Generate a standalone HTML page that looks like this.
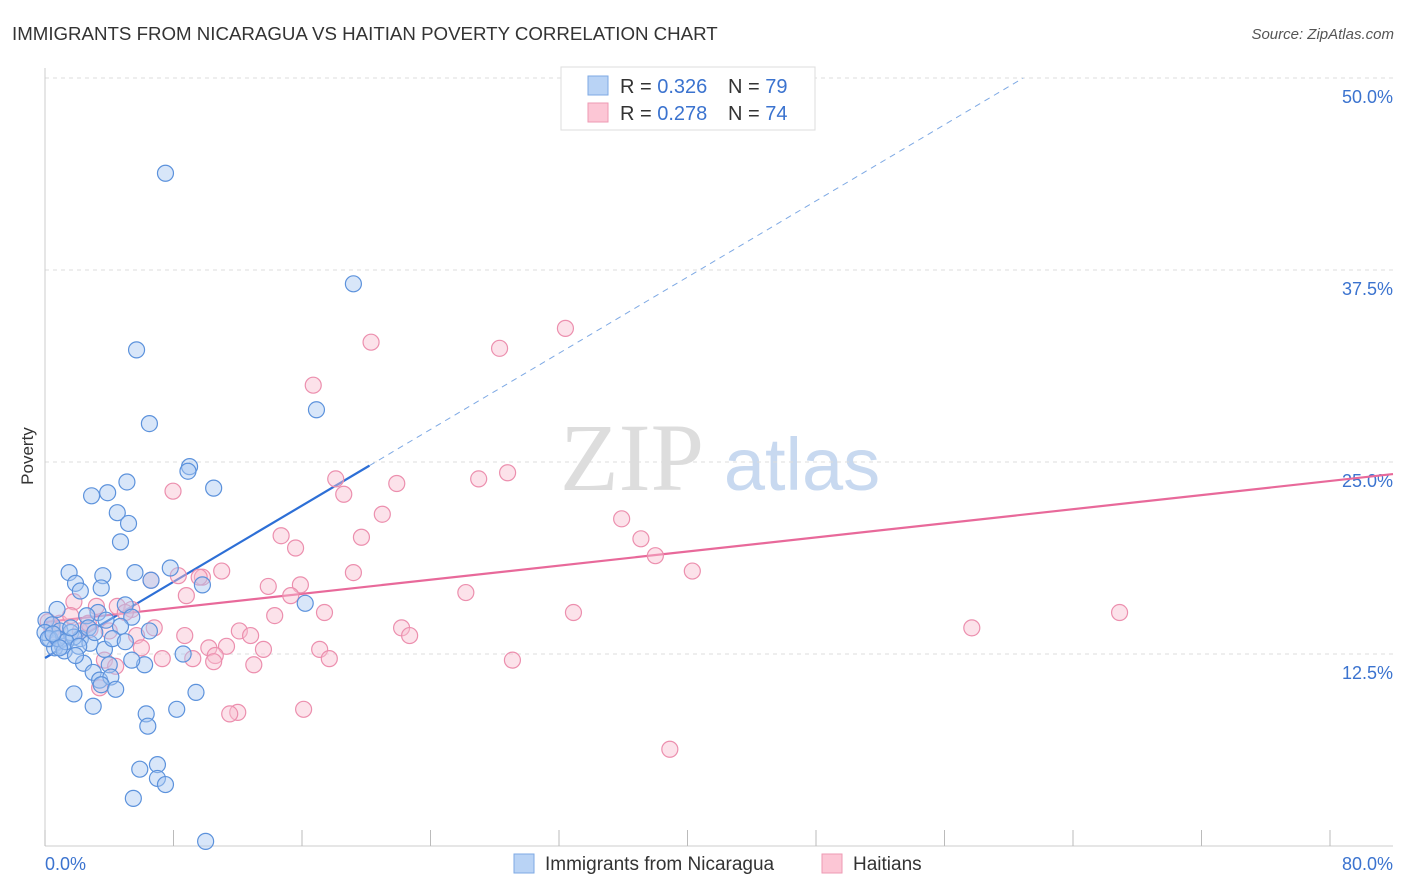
<!DOCTYPE html>
<html><head><meta charset="utf-8">
<style>
body{margin:0;background:#fff;font-family:"Liberation Sans",sans-serif;}
#wrap{position:relative;width:1406px;height:892px;overflow:hidden;}
</style></head>
<body>
<div id="wrap">
<svg id="svg" width="1406" height="892" xmlns="http://www.w3.org/2000/svg">
<text x="12" y="40" font-size="18.7" fill="#333">IMMIGRANTS FROM NICARAGUA VS HAITIAN POVERTY CORRELATION CHART</text>
<text x="1394" y="39" font-size="15" fill="#555" font-style="italic" text-anchor="end">Source: ZipAtlas.com</text>
<text x="33" y="456" font-size="17" fill="#333" text-anchor="middle" transform="rotate(-90 33 456)">Poverty</text>
<g>
<text x="632" y="490" font-size="96" font-family="Liberation Serif,serif" fill="#ddd" text-anchor="middle">ZIP</text>
<text x="802" y="490" font-size="74" fill="#c8d9f0" text-anchor="middle">atlas</text>
</g>
<g id="grid"></g><g id="axes"></g><g id="trend"></g><g id="pts"></g>
<g>
<rect x="561" y="67" width="254" height="63" fill="#fff" stroke="#ddd"/>
<rect x="588" y="76" width="20" height="19" fill="#b9d3f5" stroke="#7ea9e4"/>
<rect x="588" y="103" width="20" height="19" fill="#fcc6d5" stroke="#ee9ab3"/>
<text x="620" y="93" font-size="20" fill="#333">R = <tspan fill="#3b73cf">0.326</tspan><tspan x="728">N = </tspan><tspan fill="#3b73cf">79</tspan></text>
<text x="620" y="120" font-size="20" fill="#333">R = <tspan fill="#3b73cf">0.278</tspan><tspan x="728">N = </tspan><tspan fill="#3b73cf">74</tspan></text>
</g>
<g>
<rect x="514" y="854" width="20" height="19" fill="#b9d3f5" stroke="#7ea9e4"/>
<text x="545" y="870" font-size="19" fill="#333">Immigrants from Nicaragua</text>
<rect x="822" y="854" width="20" height="19" fill="#fcc6d5" stroke="#ee9ab3"/>
<text x="853" y="870" font-size="19" fill="#333">Haitians</text>
</g>
</svg>
</div>
<script>
const yTicks=[12.5,25,37.5,50];
const yTickLabels=["12.5%","25.0%","37.5%","50.0%"];
const xTickCount=10;
const blueX=[7.5,19.2,5.7,16.9,6.5,9.0,8.9,5.1,10.5,2.9,3.9,4.5,5.2,4.7,7.8,1.5,5.6,3.6,1.9,3.5,2.2,6.6,9.8,0.75,3.3,5.0,5.4,16.2,2.6,4.7,6.5,0.06,0.44,0.93,1.6,2.2,1.1,1.8,0.3,0.6,1.2,3.7,4.2,5.0,8.6,6.2,2.4,3.0,4.0,3.4,4.1,3.5,4.4,1.8,9.4,3.0,6.3,8.2,6.4,7.0,5.9,7.0,7.5,5.5,10.0,0.0,0.2,0.8,1.3,0.5,2.7,3.8,5.4,2.8,2.1,1.6,3.1,0.9,1.9];
const blueY=[43.8,36.6,32.3,28.4,27.5,24.7,24.4,23.7,23.3,22.8,23.0,21.7,21.0,19.8,18.1,17.8,17.8,17.6,17.1,16.8,16.6,17.3,17.0,15.4,15.2,15.7,14.9,15.8,14.99,14.3,14.0,14.7,14.4,14.0,13.9,13.5,13.0,13.6,13.5,12.9,12.7,12.8,13.5,13.3,12.5,11.8,11.9,11.3,11.8,10.8,11.0,10.5,10.2,9.9,10.0,9.1,8.6,8.9,7.8,5.3,5.0,4.4,4.0,3.1,0.3,13.9,13.5,13.5,13.3,13.8,14.2,14.7,12.1,13.2,13.0,14.2,13.9,12.9,12.4];
const pinkX=[32.4,20.3,28.3,16.7,18.1,28.8,27.0,21.9,7.97,18.6,21.0,35.9,14.7,19.7,37.1,15.6,38.0,40.3,11.0,19.2,8.3,9.8,6.6,13.9,15.9,8.8,15.3,26.2,1.8,3.2,4.5,5.4,17.4,32.9,66.9,14.3,57.7,22.2,22.7,12.1,12.8,6.8,8.7,5.7,0.2,0.93,2.8,6.0,10.2,11.3,13.6,17.1,10.6,7.3,9.2,3.7,17.7,13.0,29.1,4.4,16.1,12.0,11.5,38.9,2.2,0.75,3.4,5.0,4.0,9.6,10.5,1.6,0.44,2.7];
const pinkY=[33.7,32.8,32.4,30.0,23.9,24.3,23.9,23.6,23.1,22.9,21.6,21.3,20.2,20.1,20.0,19.4,18.9,17.9,17.9,17.8,17.6,17.5,17.3,16.9,17.0,16.3,16.3,16.5,15.9,15.6,15.6,15.4,15.2,15.2,15.2,15.0,14.2,14.2,13.7,14.0,13.7,14.2,13.7,13.7,14.6,14.5,14.1,12.9,12.9,13.0,12.8,12.8,12.4,12.2,12.2,12.1,12.2,11.8,12.1,11.7,8.9,8.7,8.6,6.3,14.0,13.5,10.3,15.2,14.0,17.5,12.0,15.0,14.1,14.5];
const blueTrend=[12.24,0.62];
const blueTrendSolidEnd=[20.2];
const pinkTrend=[14.58,0.1148];
const NS="http://www.w3.org/2000/svg";
const X=v=>45+v*16.0625, Y=v=>846-v*15.36;
function mk(t,a,p){const e=document.createElementNS(NS,t);for(const k in a)e.setAttribute(k,a[k]);p.appendChild(e);return e;}
const grid=document.getElementById('grid'),axes=document.getElementById('axes');
yTicks.forEach((v,i)=>{
 const l=mk('line',{x1:45,x2:1393,y1:Y(v),y2:Y(v),stroke:'#ddd','stroke-dasharray':'4 4'},grid);
 
 
 const t=mk('text',{x:1393,y:Y(v)+25,'font-size':18,fill:'#3b73cf','text-anchor':'end'},axes);
 t.textContent=yTickLabels[i];
 
 
});
mk('line',{x1:45,x2:45,y1:68,y2:846,stroke:'#ccc'},axes);
mk('line',{x1:45,x2:1393,y1:846,y2:846,stroke:'#ccc'},axes);
for(let i=0;i<=xTickCount;i++){const x=X(i*8);const t=mk('line',{x1:x,x2:x,y1:830,y2:846,stroke:'#bbb'},axes);
 
 }
const t0=mk('text',{x:45,y:870,'font-size':18,fill:'#3b73cf'},axes);t0.textContent='0.0%';


const t1=mk('text',{x:1393,y:870,'font-size':18,fill:'#3b73cf','text-anchor':'end'},axes);t1.textContent='80.0%';


const pts=document.getElementById('pts');
function dots(xs,ys,fill,stroke,name){xs.forEach((x,i)=>{const c=mk('circle',{cx:X(x),cy:Y(ys[i]),r:8,fill:fill,'fill-opacity':0.45,stroke:stroke,'stroke-width':1.2},pts);
 
 });}
dots(pinkX,pinkY,'#f9bfd0','#ec8fae','haitians-point');
dots(blueX,blueY,'#a9c8f2','#5c92dc','nicaragua-point');
const tr=document.getElementById('trend');
const xe=blueTrendSolidEnd[0];
const b1=mk('line',{x1:X(0),y1:Y(blueTrend[0]),x2:X(xe),y2:Y(blueTrend[0]+blueTrend[1]*xe),stroke:'#2d6fd6','stroke-width':2.2},tr);


const xd=(50-blueTrend[0])/blueTrend[1];
const b2=mk('line',{x1:X(xe),y1:Y(blueTrend[0]+blueTrend[1]*xe),x2:X(xd),y2:Y(50),stroke:'#7ea9e4','stroke-width':1,'stroke-dasharray':'6 5'},tr);


const p1=mk('line',{x1:X(0),y1:Y(pinkTrend[0]),x2:1393,y2:Y(pinkTrend[0]+pinkTrend[1]*(1393-45)/16.0625),stroke:'#e8699a','stroke-width':2.2},tr);


</script>
</body></html>
